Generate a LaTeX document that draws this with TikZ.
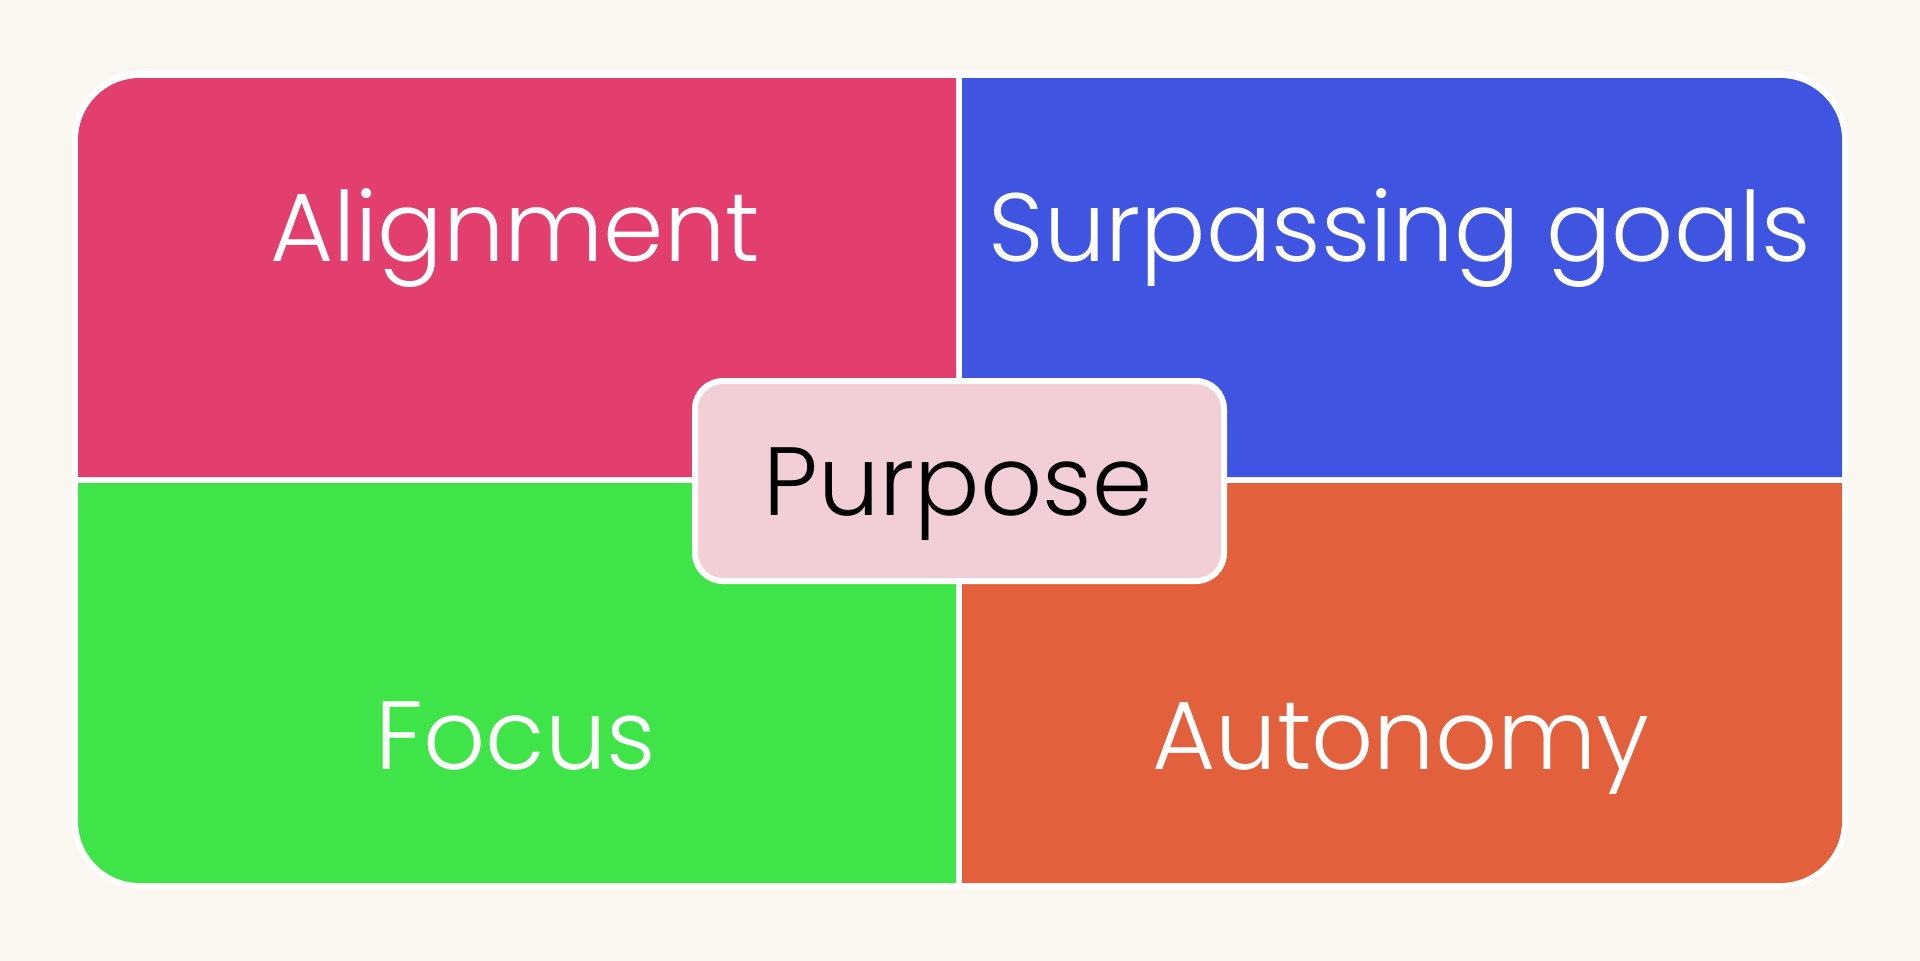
\documentclass[tikz,border=0pt]{standalone}
\usepackage{fontspec}
\setmainfont{Poppins Light}
\definecolor{bgc}{HTML}{FAF7F0}
\definecolor{qpink}{HTML}{E23E6E}
\definecolor{qblue}{HTML}{3F55E1}
\definecolor{qgreen}{HTML}{3FE548}
\definecolor{qorange}{HTML}{E2603C}
\definecolor{ppink}{HTML}{F2CFD6}
\tikzset{
  lbl/.style={anchor=base, inner sep=0pt, text=white, font=\fontsize{97}{110}\selectfont},
  centerbox/.style={draw=white, line width=6pt, fill=ppink, rounded corners=28pt,
    minimum width=529pt, minimum height=200pt, inner sep=0pt},
}
\begin{document}
\begin{tikzpicture}[x=1pt,y=-1pt]
\useasboundingbox[fill=bgc] (0,0) rectangle (1920,961);
% white frame
\fill[white, rounded corners=68pt] (72,71) rectangle (1848,889);
% quadrants
\fill[qpink] (78,477) [rounded corners=62pt] -- (78,78) [sharp corners] -- (956,78) -- (956,477) -- cycle;
\fill[qblue] (962,78) [rounded corners=62pt] -- (1842,78) [sharp corners] -- (1842,477) -- (962,477) -- cycle;
\fill[qgreen] (78,483) -- (956,483) -- (956,883) [rounded corners=62pt] -- (78,883) [sharp corners] -- cycle;
\fill[qorange] (962,483) -- (1842,483) [rounded corners=62pt] -- (1842,883) [sharp corners] -- (962,883) -- cycle;
% labels
\node[lbl] (align) at (515,261) {Alignment};
\node[lbl] (surp) at (1400,261) {Surpassing goals};
\node[lbl] (focus) at (516,769) {Focus};
\node[lbl] (auto) at (1401,769) {Autonomy};
% centre box
\node[centerbox] (pbox) at (959.5,481) {};
\node[lbl, text=black] (purpose) at (958,515) {Purpose};
\end{tikzpicture}
\end{document}
